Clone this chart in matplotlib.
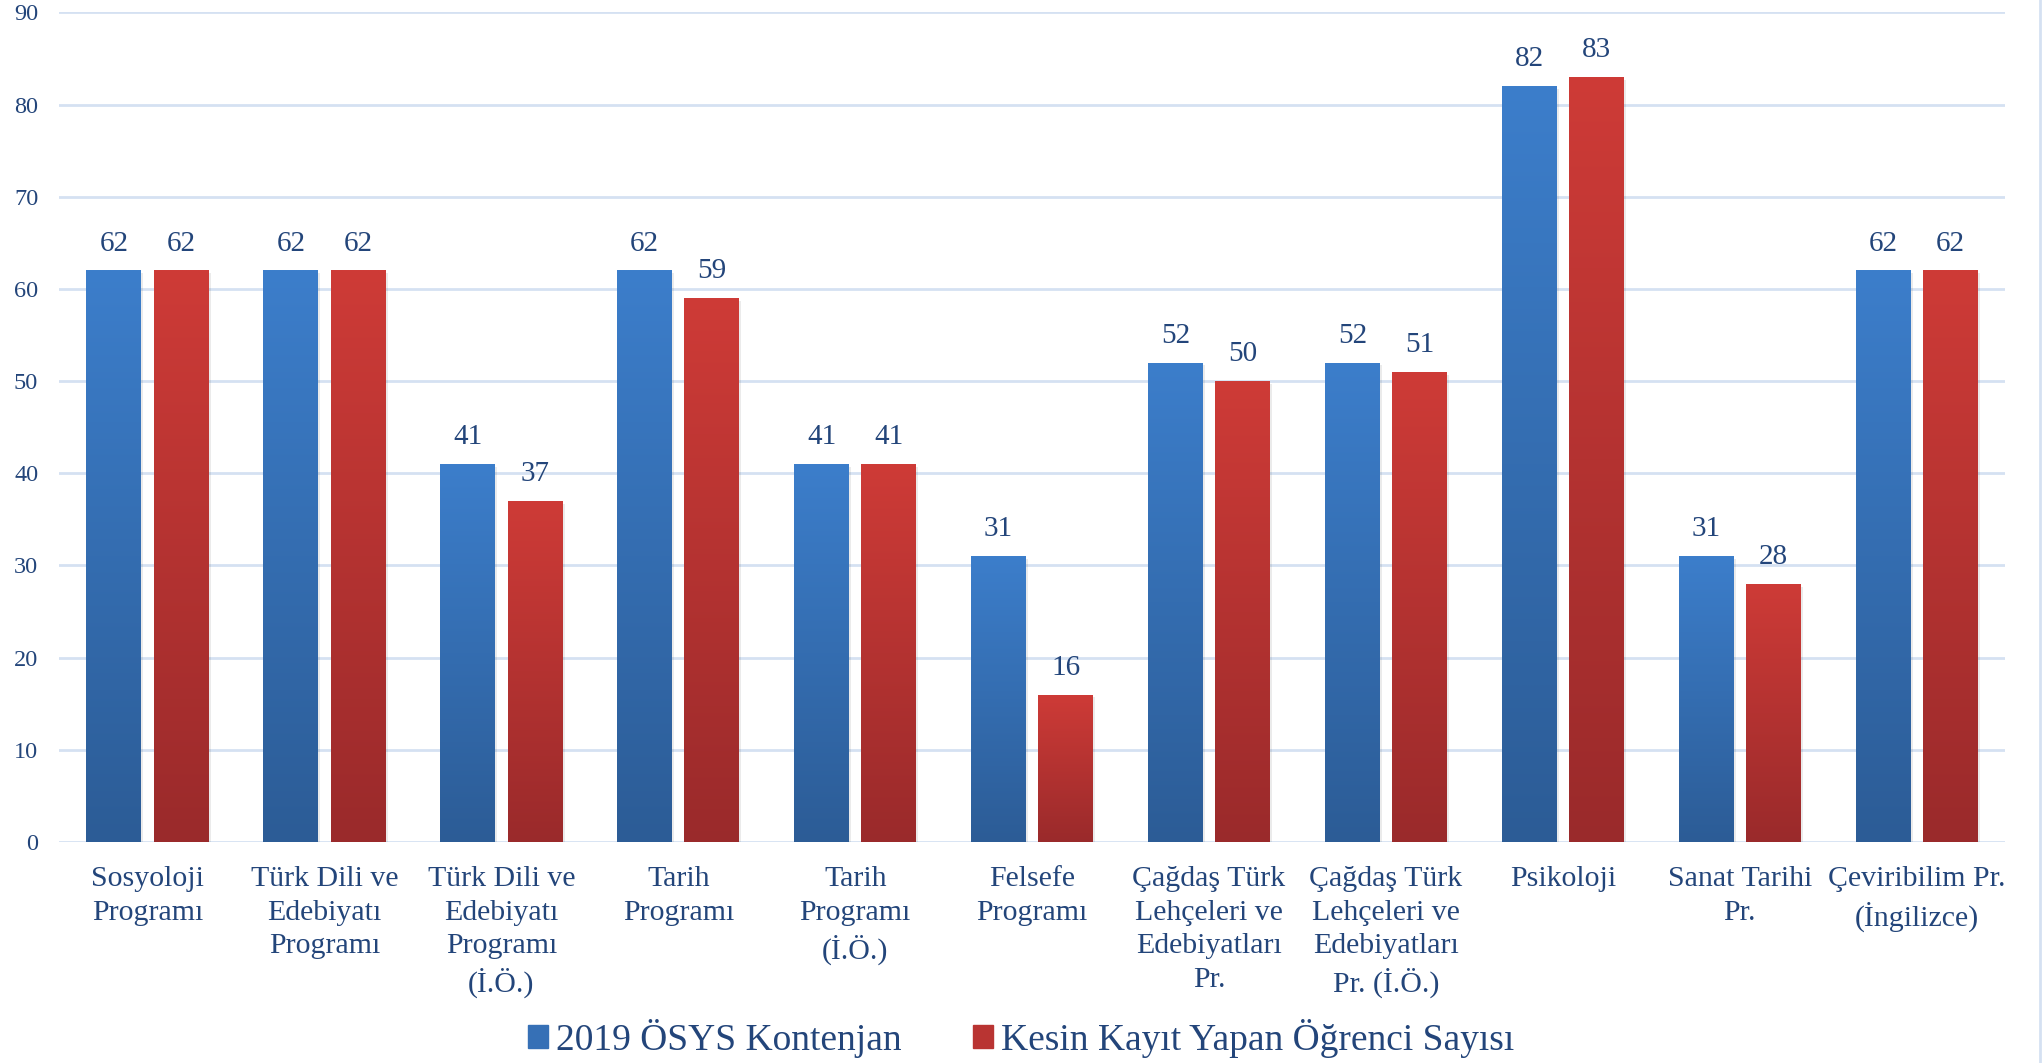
import numpy as np
import matplotlib
matplotlib.use('Agg')
import matplotlib.pyplot as plt
import matplotlib.patches as mpatches
from matplotlib.colors import LinearSegmentedColormap
from matplotlib.lines import Line2D

programs = ['Sosyoloji\nProgramı', 'Türk Dili ve\nEdebiyatı\nProgramı',
            'Türk Dili ve\nEdebiyatı\nProgramı\n(İ.Ö.)', 'Tarih\nProgramı',
            'Tarih\nProgramı\n(İ.Ö.)', 'Felsefe\nProgramı',
            'Çağdaş Türk\nLehçeleri ve\nEdebiyatları\nPr.',
            'Çağdaş Türk\nLehçeleri ve\nEdebiyatları\nPr. (İ.Ö.)',
            'Psikoloji', 'Sanat Tarihi\nPr.', 'Çeviribilim Pr.\n(İngilizce)']
kontenjan = [62, 62, 41, 62, 41, 31, 52, 52, 82, 31, 62]
kayit = [62, 62, 37, 59, 41, 16, 50, 51, 83, 28, 62]
series_names = ['2019 ÖSYS Kontenjan', 'Kesin Kayıt Yapan Öğrenci Sayısı']

txt = '#23457A'
grid_c = '#D5E1F2'
blue_cm = LinearSegmentedColormap.from_list('b', ['#2C5C96', '#3C7ECB'])
red_cm = LinearSegmentedColormap.from_list('r', ['#9A2A2B', '#CE3B37'])

plt.rcParams['font.family'] = ['Liberation Serif', 'DejaVu Serif']

fig = plt.figure(figsize=(20.42, 10.63), dpi=100)
ax = fig.add_axes([0.0289, 0.2079, 0.9531, 0.7805])

x = np.arange(len(programs))
w = 0.31
off = 0.19
grad = np.linspace(0, 1, 256).reshape(-1, 1)

for vals, dx, cm in [(kontenjan, -off, blue_cm), (kayit, off, red_cm)]:
    bars = ax.bar(x + dx, vals, w, color=cm(0.6), zorder=3)
    for b, v in zip(bars, vals):
        # soft shadow
        ax.add_patch(mpatches.Rectangle((b.get_x() + 0.012, 0), b.get_width(), v - 0.3,
                                        color='#000000', alpha=0.08, zorder=2, lw=0))
        im = ax.imshow(grad, cmap=cm, origin='lower', aspect='auto',
                       extent=[b.get_x(), b.get_x() + b.get_width(), 0, v], zorder=4)
        im.set_clip_path(b)
        ax.annotate(str(v), (b.get_x() + b.get_width() / 2, v), xytext=(0, 10),
                    textcoords='offset points', ha='center', va='bottom',
                    fontsize=21, color=txt)

ax.set_xlim(-0.5, len(programs) - 0.5)
ax.set_ylim(0, 90)
ax.set_yticks(range(0, 91, 10))
ax.yaxis.grid(True, color=grid_c, lw=2, zorder=0)
ax.set_axisbelow(True)
for s in ax.spines.values():
    s.set_visible(False)
ax.tick_params(axis='both', length=0, colors=txt)
ax.tick_params(axis='y', labelsize=17.5, pad=15)
ax.set_xticks(x)
ax.set_xticklabels(programs, fontsize=21.5, va='top', linespacing=1.37)
ax.tick_params(axis='x', pad=17.5)

fig.add_artist(Line2D([0.9988, 0.9988], [0, 1], color=grid_c, lw=2, transform=fig.transFigure))

handles = [mpatches.Patch(color=blue_cm(0.6), label=series_names[0]),
           mpatches.Patch(color=red_cm(0.6), label=series_names[1])]
leg = fig.legend(handles=handles, loc='center', bbox_to_anchor=(0.5, 0.023), ncol=2,
                 frameon=False, fontsize=27, handlelength=0.55, handleheight=0.55,
                 handletextpad=0.2, columnspacing=1.9)
for t in leg.get_texts():
    t.set_color(txt)

fig.savefig('out.png', dpi=100)
